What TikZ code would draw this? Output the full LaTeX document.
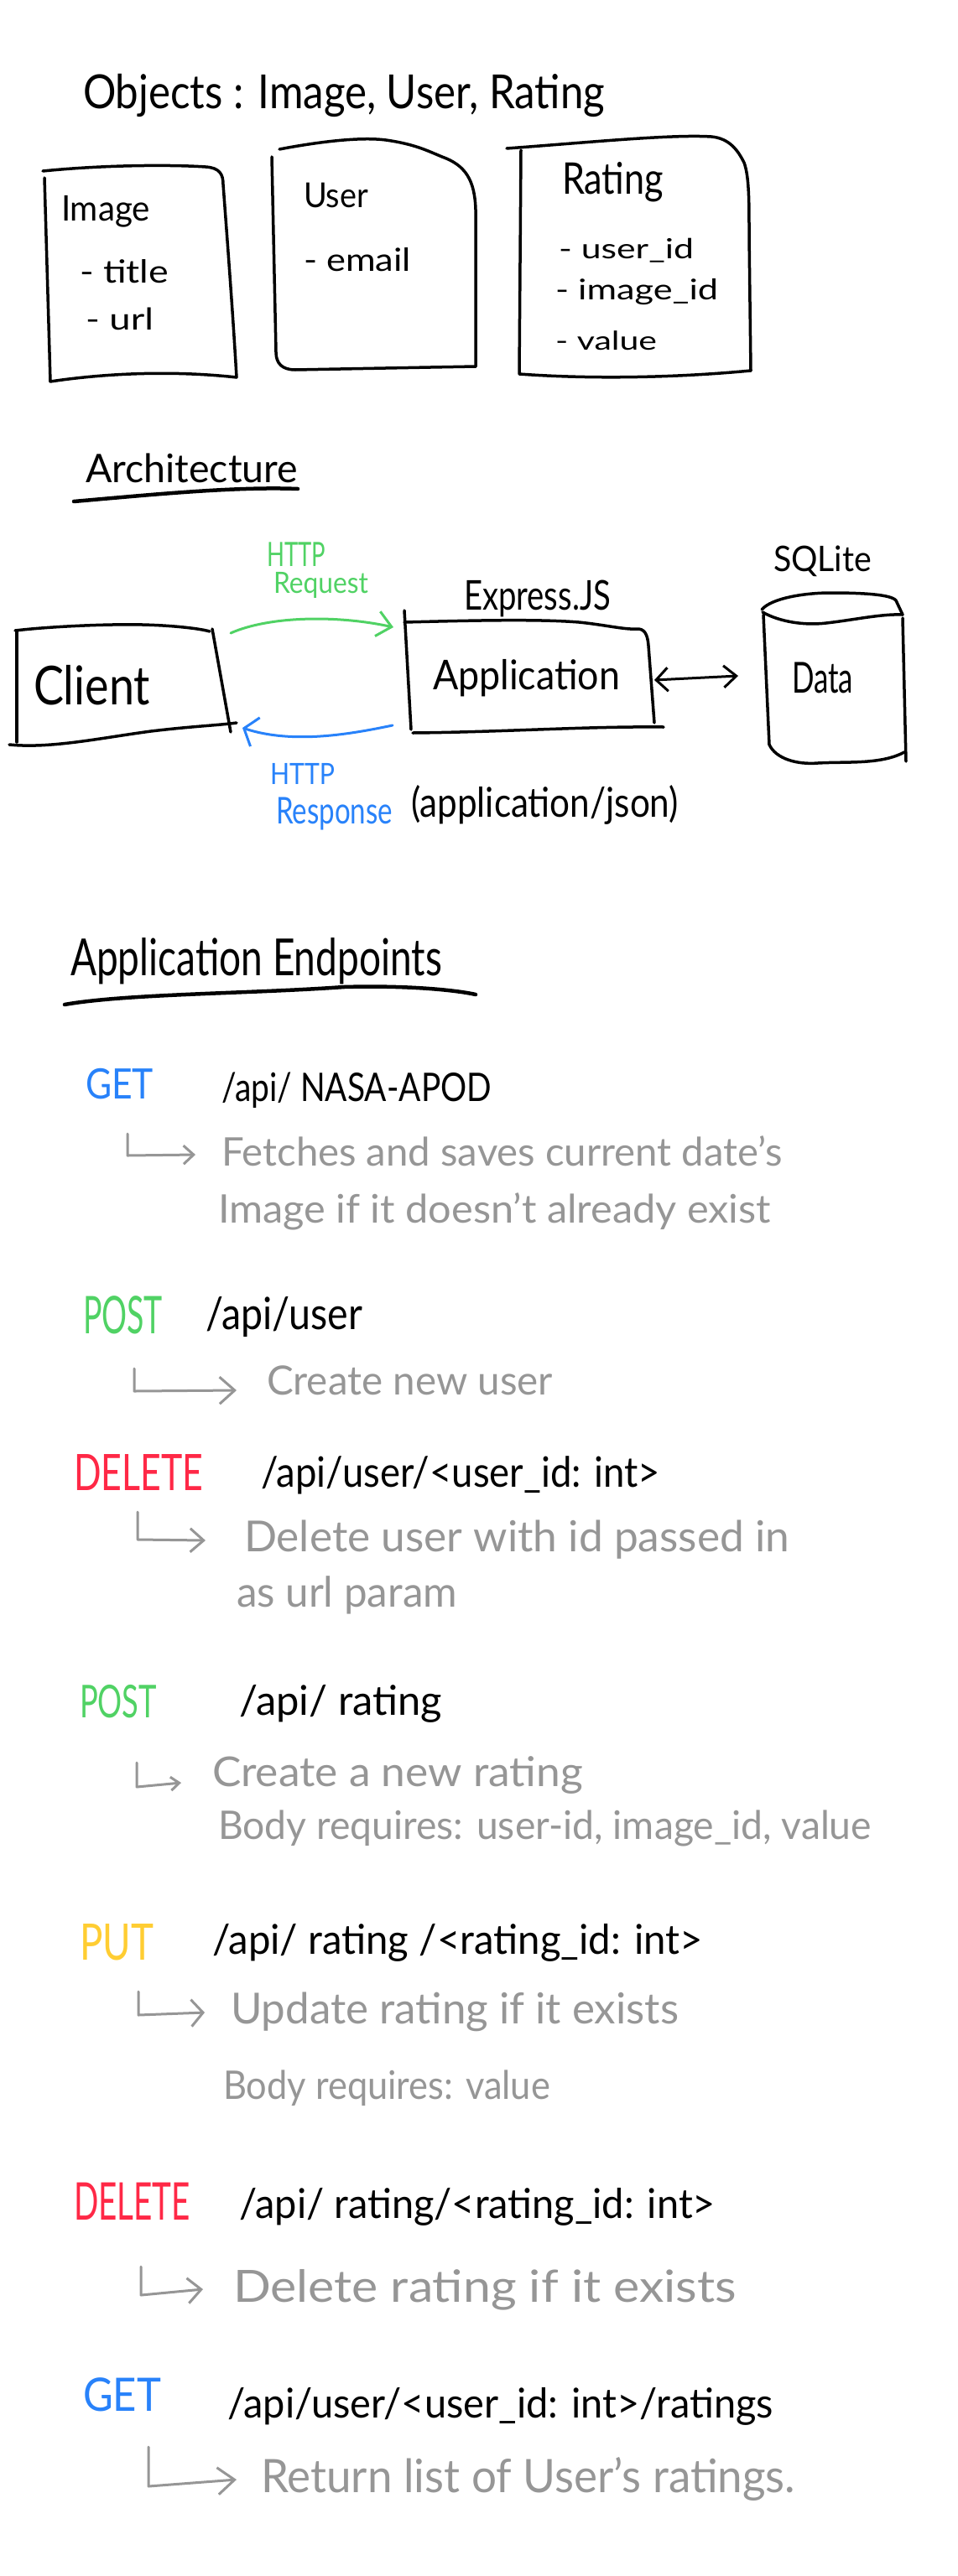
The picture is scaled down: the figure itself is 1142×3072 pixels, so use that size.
\documentclass[tikz,border=0pt]{standalone}
\usepackage{fontspec}
\setmainfont{Lato}
\usepackage{graphicx}
\usetikzlibrary{arrows.meta}
\definecolor{hwblue}{RGB}{40,130,250}
\definecolor{hwgreen}{RGB}{80,210,100}
\definecolor{hwred}{RGB}{255,40,70}
\definecolor{hwyellow}{RGB}{255,205,50}
\definecolor{hwgray}{RGB}{150,150,150}
\newcommand\fitw[2]{\resizebox{#1pt}{\height}{#2}}
\newcommand\fsz[1]{\fontsize{#1}{#1}\selectfont}
\tikzset{
  hw/.style={anchor=base west, inner sep=0pt, outer sep=0pt},
  pen/.style={line width=3.5pt, line cap=round, line join=round, black},
  thickpen/.style={line width=4.5pt, line cap=round, line join=round, black},
  hook/.style={line width=3pt, line cap=round, line join=round, hwgray, -{Straight Barb[length=#1]}},
  hook/.default={14pt 0 0, width=28pt},
}
\begin{document}
\begin{tikzpicture}[x=1pt,y=-1pt]
\fill[white] (0,0) rectangle (1142,3072);
\useasboundingbox (0,0) rectangle (1142,3072);

% ---------- Objects ----------
\node[hw,font=\fsz{56}] (title) at (99,130) {\fitw{622}{Objects : Image, User, Rating}};

% Image box
\draw[pen] (51,204) .. controls (120,197) and (200,196) .. (245,199) .. controls (262,200) and (266,208) .. (266,220) .. controls (272,300) and (278,380) .. (282,450);
\draw[pen] (53,212) -- (60,455) .. controls (120,446) and (200,441) .. (282,450);
\node[hw,font=\fsz{42}] (imgT) at (73,263) {\fitw{106}{Image}};
\node[hw,font=\fsz{38}] (imgA) at (95,337) {\fitw{106}{- title}};
\node[hw,font=\fsz{36}] (imgB) at (102,393) {\fitw{81}{- url}};

% User box
\draw[pen] (333,178) .. controls (380,169) and (430,163) .. (460,167) .. controls (495,172) and (510,180) .. (527,187) .. controls (555,197) and (566,215) .. (567,250) -- (567,437);
\draw[pen] (324,187) -- (329,420) .. controls (329,433) and (336,441) .. (352,441) -- (567,437);
\node[hw,font=\fsz{41}] (usrT) at (362,247) {\fitw{77}{User}};
\node[hw,font=\fsz{38}] (usrA) at (362,323) {\fitw{128}{- email}};

% Rating box
\draw[pen] (604,177) .. controls (700,170) and (800,160) .. (848,163) .. controls (870,165) and (880,180) .. (887,194) .. controls (893,210) and (893,240) .. (893,280) -- (895,442);
\draw[pen] (621,179) -- (619,446) .. controls (700,452) and (800,451) .. (895,442);
\node[hw,font=\fsz{52}] (ratT) at (670,232) {\fitw{121}{Rating}};
\node[hw,font=\fsz{33}] (ratA) at (666,308) {\fitw{161}{- user\_id}};
\node[hw,font=\fsz{34}] (ratB) at (662,357) {\fitw{194}{- image\_id}};
\node[hw,font=\fsz{31}] (ratC) at (662,417) {\fitw{121}{- value}};

% ---------- Architecture ----------
\node[hw,font=\fsz{47}] (arch) at (102,575) {\fitw{253}{Architecture}};
\draw[thickpen] (88,598) .. controls (180,590) and (280,580) .. (355,583);

% Client box
\draw[pen] (18,752) .. controls (60,747) and (130,744) .. (170,745) .. controls (210,746) and (240,750) .. (250,753);
\draw[pen] (20,752) -- (20,885);
\draw[pen] (253,750) -- (275,873);
\draw[pen] (11,888) .. controls (60,893) and (120,880) .. (180,872) .. controls (230,866) and (260,865) .. (282,862);
\node[hw,font=\fsz{64}] (client) at (40,840) {\fitw{139}{Client}};

% Application box
\draw[pen] (482,728) -- (490,870);
\draw[pen] (482,742) .. controls (560,740) and (640,738) .. (690,742) .. controls (720,745) and (745,751) .. (758,750) .. controls (768,749) and (772,756) .. (773,770) -- (780,862);
\draw[pen] (492,874) .. controls (600,873) and (700,866) .. (791,867);
\node[hw,font=\fsz{49}] (express) at (553,727) {\fitw{175}{Express.JS}};
\node[hw,font=\fsz{49}] (app) at (516,822) {\fitw{223}{Application}};

% Database cylinder
\draw[pen] (908,727) .. controls (920,713) and (960,707) .. (990,707) .. controls (1030,707) and (1062,709) .. (1068,716) -- (1076,733);
\draw[pen] (909,730) .. controls (930,742) and (960,746) .. (985,743) .. controls (1020,739) and (1050,732) .. (1076,733);
\draw[pen] (910,733) -- (917,888);
\draw[pen] (1076,737) -- (1080,908);
\draw[pen] (917,888) .. controls (925,905) and (950,912) .. (975,910) .. controls (1010,908) and (1050,912) .. (1078,897);
\node[hw,font=\fsz{42}] (sqlite) at (922,681) {\fitw{117}{SQLite}};
\node[hw,font=\fsz{51}] (data) at (944,826) {\fitw{73}{Data}};

% Arrows
\coordinate (reqS) at (275,755);
\coordinate (reqE) at (469,748);
\coordinate (resS) at (468,865);
\coordinate (resE) at (289,868);
\coordinate (dbL) at (780,811);
\coordinate (dbR) at (880,806);
\draw[line width=3pt, line cap=round, hwgreen, -{Straight Barb[length=17pt, width=30pt]}] (reqS) .. controls (320,735) and (400,733) .. (reqE);
\draw[line width=3pt, line cap=round, hwblue, -{Straight Barb[length=14pt, width=36pt]}] (resS) .. controls (420,875) and (350,888) .. (resE);
\draw[line width=3pt, line cap=round, black, {Straight Barb[length=14pt, width=28pt]}-{Straight Barb[length=15pt, width=26pt]}] (dbL) -- (dbR);

\node[hw,font=\fsz{40},text=hwgreen] (reqA) at (318,675) {\fitw{70}{HTTP}};
\node[hw,font=\fsz{35},text=hwgreen] (reqB) at (326,707) {\fitw{113}{Request}};
\node[hw,font=\fsz{35},text=hwblue] (resA) at (322,935) {\fitw{77}{HTTP}};
\node[hw,font=\fsz{44},text=hwblue] (resB) at (329,982) {\fitw{139}{Response}};
\node[hw,font=\fsz{49}] (json) at (490,974) {\fitw{319}{(application/json)}};

% ---------- Endpoints ----------
\node[hw,font=\fsz{61}] (endp) at (84,1163) {\fitw{443}{Application Endpoints}};
\draw[thickpen] (77,1198) .. controls (150,1185) and (300,1185) .. (410,1177) .. controls (480,1175) and (540,1180) .. (567,1186);

% 1 GET NASA
\node[hw,font=\fsz{50},text=hwblue] (m1) at (102,1310) {\fitw{81}{GET}};
\node[hw,font=\fsz{47}] (p1) at (264,1313) {\fitw{322}{/api/ NASA-APOD}};
\coordinate (h1a) at (152,1352); \coordinate (h1b) at (152,1378); \coordinate (h1c) at (233,1377);
\draw[hook={12pt, width=22pt}] (h1a) -- (h1b) -- (h1c);
\node[hw,font=\fsz{47},text=hwgray] (d1a) at (264,1390) {\fitw{669}{Fetches and saves current date's}};
\node[hw,font=\fsz{47},text=hwgray] (d1b) at (260,1458) {\fitw{659}{Image if it doesn't already exist}};

% 2 POST user
\node[hw,font=\fsz{62},text=hwgreen] (m2) at (99,1590) {\fitw{95}{POST}};
\node[hw,font=\fsz{53}] (p2) at (245,1585) {\fitw{187}{/api/user}};
\coordinate (h2a) at (160,1632); \coordinate (h2b) at (160,1659); \coordinate (h2c) at (282,1658);
\draw[hook={18pt, width=32pt}] (h2a) -- (h2b) -- (h2c);
\node[hw,font=\fsz{48},text=hwgray] (d2) at (318,1663) {\fitw{341}{Create new user}};

% 3 DELETE user
\node[hw,font=\fsz{60},text=hwred] (m3) at (88,1777) {\fitw{154}{DELETE}};
\node[hw,font=\fsz{50}] (p3) at (311,1773) {\fitw{476}{/api/user/<user\_id: int>}};
\coordinate (h3a) at (164,1803); \coordinate (h3b) at (164,1836); \coordinate (h3c) at (245,1837);
\draw[hook={16pt, width=28pt}] (h3a) -- (h3b) -- (h3c);
\node[hw,font=\fsz{51},text=hwgray] (d3a) at (291,1850) {\fitw{650}{Delete user with id passed in}};
\node[hw,font=\fsz{50},text=hwgray] (d3b) at (282,1916) {\fitw{263}{as url param}};

% 4 POST rating
\node[hw,font=\fsz{54},text=hwgreen] (m4) at (95,2048) {\fitw{92}{POST}};
\node[hw,font=\fsz{49}] (p4) at (285,2045) {\fitw{242}{/api/ rating}};
\coordinate (h4a) at (163,2102); \coordinate (h4b) at (163,2131); \coordinate (h4c) at (216,2126);
\draw[hook={10pt, width=16pt}] (h4a) -- (h4b) -- (h4c);
\node[hw,font=\fsz{49},text=hwgray] (d4a) at (253,2130) {\fitw{442}{Create a new rating}};
\node[hw,font=\fsz{47},text=hwgray] (d4b) at (260,2193) {\fitw{779}{Body requires: user-id, image\_id, value}};

% 5 PUT rating
\node[hw,font=\fsz{60},text=hwyellow] (m5) at (95,2337) {\fitw{88}{PUT}};
\node[hw,font=\fsz{49}] (p5) at (253,2330) {\fitw{585}{/api/ rating /<rating\_id: int>}};
\coordinate (h5a) at (165,2375); \coordinate (h5b) at (165,2403); \coordinate (h5c) at (244,2400);
\draw[hook={14pt, width=32pt}] (h5a) -- (h5b) -- (h5c);
\node[hw,font=\fsz{51},text=hwgray] (d5a) at (275,2413) {\fitw{534}{Update rating if it exists}};
\node[hw,font=\fsz{47},text=hwgray] (d5b) at (266,2503) {\fitw{390}{Body requires: value}};

% 6 DELETE rating
\node[hw,font=\fsz{62},text=hwred] (m6) at (88,2647) {\fitw{139}{DELETE}};
\node[hw,font=\fsz{49}] (p6) at (285,2645) {\fitw{568}{/api/ rating/<rating\_id: int>}};
\coordinate (h6a) at (168,2703); \coordinate (h6b) at (168,2737); \coordinate (h6c) at (242,2730);
\draw[hook={16pt, width=30pt}] (h6a) -- (h6b) -- (h6c);
\node[hw,font=\fsz{53},text=hwgray] (d6) at (278,2745) {\fitw{600}{Delete rating if it exists}};

% 7 GET ratings
\node[hw,font=\fsz{55},text=hwblue] (m7) at (99,2875) {\fitw{93}{GET}};
\node[hw,font=\fsz{49}] (p7) at (271,2883) {\fitw{651}{/api/user/<user\_id: int>/ratings}};
\coordinate (h7a) at (177,2918); \coordinate (h7b) at (177,2965); \coordinate (h7c) at (282,2957);
\draw[hook={20pt, width=32pt}] (h7a) -- (h7b) -- (h7c);
\node[hw,font=\fsz{55},text=hwgray] (d7) at (311,2972) {\fitw{637}{Return list of User's ratings.}};
\end{tikzpicture}
\end{document}
